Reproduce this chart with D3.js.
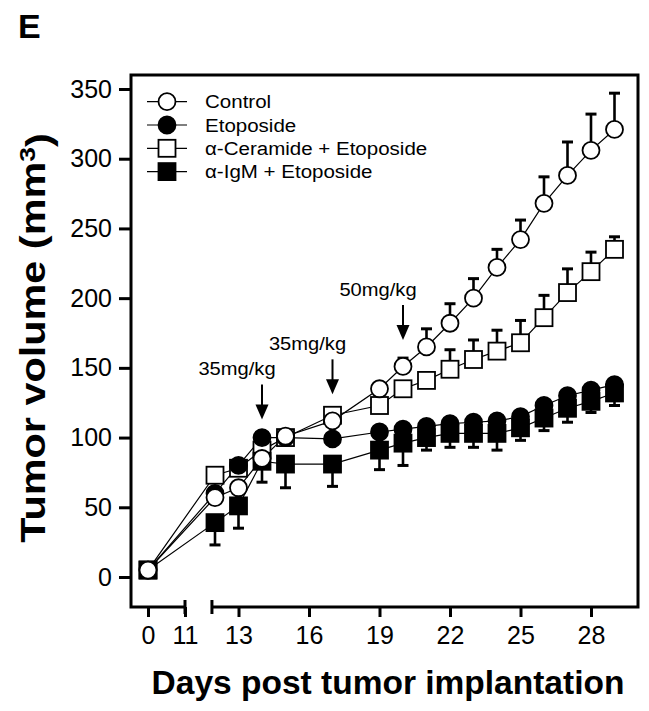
<!DOCTYPE html>
<html lang="en">
  <head>
    <meta charset="utf-8">
    <title>Tumor volume | D3</title>
    <script src="https://d3js.org/d3.v7.min.js"></script>
    <style type="text/css">
      body {
        margin: 0;
        background-color: #FFFFFF;
      }
      svg {
        display: block;
        font-family: 'Liberation Sans', Arial, sans-serif;
      }
      .axis line {
        stroke: #000000;
        stroke-width: 3;
      }
      .axis text {
        font-size: 25px;
        fill: #000000;
      }
      .frame {
        fill: none;
        stroke: #000000;
        stroke-width: 3;
      }
      .line {
        fill: none;
        stroke: #000000;
        stroke-width: 1.2;
      }
      .err {
        stroke: #000000;
        stroke-width: 2.6;
      }
      .cap {
        stroke: #000000;
        stroke-width: 3;
      }
      .marker {
        stroke: #000000;
        stroke-width: 1.8;
      }
      .legend text, .dose text {
        font-size: 19px;
        fill: #000000;
      }
      .title {
        font-weight: bold;
        fill: #000000;
      }
    </style>
  </head>
  <body>
  <script type="text/javascript">
    // Data (tumor volume, mm3)
    var days = [0, 12, 13, 14, 15, 17, 19, 20, 21, 22, 23, 24, 25, 26, 27, 28, 29];

    var controlMean = [5, 57, 64, 85, 101, 112, 135, 151, 165, 182, 200, 222, 242, 268, 288, 306, 321];
    var controlErr  = [0, 0, 0, 0, 0, 0, 4, 6, 13, 14, 14, 13, 14, 19, 24, 26, 26];

    var etoposideMean = [5, 60, 80, 100, 100, 99, 104, 106, 108, 110, 111, 112, 115, 123, 130, 134, 138];
    var etoposideErr  = [0, 0, 0, 0, 0, 0, 3, 3, 3, 3, 3, 3, 3, 3, 3, 3, 3];

    var ceramideMean = [5, 73, 78, 91, 100, 116, 123, 135, 141, 149, 156, 162, 168, 186, 204, 219, 235];
    var ceramideErr  = [0, 0, 0, 0, 0, 0, 0, 0, 0, 14, 14, 15, 16, 16, 17, 14, 9];

    var igmMean = [5, 39, 51, 83, 81, 81, 91, 96, 100, 103, 103, 103, 107, 114, 121, 126, 132];
    var igmErr  = [0, 16, 16, 15, 17, 16, 14, 16, 9, 10, 10, 12, 9, 9, 10, 8, 9];

    var seriesNames = ["Control", "Etoposide", "\u03b1-Ceramide + Etoposide", "\u03b1-IgM + Etoposide"];

    var yTicks = [0, 50, 100, 150, 200, 250, 300, 350];
    var xTicksLeft = [0, 11];
    var xTicksRight = [13, 16, 19, 22, 25, 28];

    var doseDays = [14, 17, 20];
    var doseLabels = ["35mg/kg", "35mg/kg", "50mg/kg"];
    var doseTips = [113, 131, 170];

    // Layout
    var width = 649, height = 711;
    var plot = {left: 131, top: 75, right: 638, bottom: 607};

    var y = d3.scaleLinear().domain([0, 350]).range([577, 89]);
    var xLeft = d3.scaleLinear().domain([0, 11]).range([148, 185]);
    var xRight = d3.scaleLinear().domain([12, 29]).range([215, 614.5]);
    function x(d) { return d < 12 ? xLeft(d) : xRight(d); }
    var breakStart = xRight(11.87);

    var svg = d3.select("body").append("svg")
        .attr("width", width)
        .attr("height", height);

    svg.append("rect")
        .attr("width", width)
        .attr("height", height)
        .attr("fill", "#FFFFFF");

    // frame with broken x axis
    svg.append("path")
        .attr("class", "frame")
        .attr("d", "M" + breakStart + "," + plot.bottom + "H" + plot.right + "V" + plot.top +
                   "H" + plot.left + "V" + plot.bottom + "H" + xLeft(11));

    svg.append("g")
        .attr("class", "axis")
        .attr("transform", "translate(" + plot.left + ",0)")
        .call(d3.axisLeft(y).tickValues(yTicks).tickSize(12).tickPadding(7))
        .call(function(g) { g.select(".domain").remove(); });

    svg.append("g")
        .attr("class", "axis")
        .attr("transform", "translate(0," + plot.bottom + ")")
        .call(d3.axisBottom(xLeft).tickValues(xTicksLeft).tickSize(10).tickPadding(9))
        .call(function(g) { g.select(".domain").remove(); });

    svg.append("g")
        .attr("class", "axis")
        .attr("transform", "translate(0," + plot.bottom + ")")
        .call(d3.axisBottom(xRight).tickValues(xTicksRight).tickSize(10).tickPadding(9))
        .call(function(g) { g.select(".domain").remove(); });

    svg.selectAll(".axis text").attr("font-family", "'Liberation Sans', Arial, sans-serif");

    // break marks
    svg.selectAll(".brk")
        .data([xLeft(11), breakStart])
      .enter().append("line")
        .attr("class", "cap")
        .attr("x1", function(d) { return d; })
        .attr("x2", function(d) { return d; })
        .attr("y1", plot.bottom - 7)
        .attr("y2", plot.bottom + 7);

    // series
    function rows(mean, err) {
      return days.map(function(d, i) { return {day: d, mean: mean[i], err: err[i]}; });
    }

    var series = [
      {name: seriesNames[0], data: rows(controlMean, controlErr), dir: 1, shape: "circle", fill: "#FFFFFF"},
      {name: seriesNames[1], data: rows(etoposideMean, etoposideErr), dir: 1, shape: "circle", fill: "#000000"},
      {name: seriesNames[2], data: rows(ceramideMean, ceramideErr), dir: 1, shape: "square", fill: "#FFFFFF"},
      {name: seriesNames[3], data: rows(igmMean, igmErr), dir: -1, shape: "square", fill: "#000000"}
    ];

    var line = d3.line()
        .x(function(d) { return x(d.day); })
        .y(function(d) { return y(d.mean); });

    svg.selectAll(".line")
        .data(series)
      .enter().append("path")
        .attr("class", "line")
        .attr("d", function(s) { return line(s.data); });

    function drawMarker(g, shape, fill, cx, cy) {
      if (shape === "circle") {
        g.append("circle")
            .attr("class", "marker")
            .attr("cx", cx).attr("cy", cy).attr("r", 8.5)
            .attr("fill", fill);
      } else {
        g.append("rect")
            .attr("class", "marker")
            .attr("x", cx - 8.5).attr("y", cy - 8.5)
            .attr("width", 17).attr("height", 17)
            .attr("fill", fill);
      }
    }

    // draw order: ceramide, etoposide, IgM, control on top
    [2, 1, 3, 0].forEach(function(k) {
      var s = series[k];
      var g = svg.append("g");
      s.data.forEach(function(d) {
        if (d.err > 0) {
          var yEnd = y(d.mean + s.dir * d.err);
          g.append("line").attr("class", "err")
              .attr("x1", x(d.day)).attr("x2", x(d.day))
              .attr("y1", y(d.mean)).attr("y2", yEnd);
          g.append("line").attr("class", "cap")
              .attr("x1", x(d.day) - 5.5).attr("x2", x(d.day) + 5.5)
              .attr("y1", yEnd).attr("y2", yEnd);
        }
      });
      s.data.forEach(function(d) {
        drawMarker(g, s.shape, s.fill, x(d.day), y(d.mean));
      });
    });

    // legend
    var legend = svg.append("g").attr("class", "legend");
    series.forEach(function(s, i) {
      var ly = 101.7 + i * 23.3;
      legend.append("line")
          .attr("class", "line")
          .attr("x1", 147).attr("x2", 187)
          .attr("y1", ly).attr("y2", ly);
      drawMarker(legend, s.shape, s.fill, 167, ly);
      legend.append("text")
          .attr("transform", "translate(205," + ly + ") scale(1.08,1)")
          .attr("dy", "0.35em")
          .text(s.name);
    });

    // dose arrows
    var dose = svg.append("g").attr("class", "dose");
    doseDays.forEach(function(d, i) {
      var ax = x(d), tip = y(doseTips[i]);
      dose.append("line")
          .attr("x1", ax).attr("x2", ax)
          .attr("y1", tip - 35).attr("y2", tip - 12)
          .attr("stroke", "#000000")
          .attr("stroke-width", 2);
      dose.append("path")
          .attr("d", "M" + (ax - 6.5) + "," + (tip - 15) + "L" + (ax + 6.5) + "," + (tip - 15) + "L" + ax + "," + tip + "Z")
          .attr("fill", "#000000");
      dose.append("text")
          .attr("transform", "translate(" + (ax - 25) + "," + (tip - 44) + ") scale(1.06,1)")
          .attr("text-anchor", "middle")
          .text(doseLabels[i]);
    });

    // titles
    svg.append("text")
        .attr("class", "title")
        .attr("x", 18)
        .attr("y", 38)
        .attr("font-size", "34px")
        .text("E");

    svg.append("text")
        .attr("class", "title")
        .attr("x", 388)
        .attr("y", 694)
        .attr("text-anchor", "middle")
        .attr("font-size", "33.5px")
        .text("Days post tumor implantation");

    var yTitle = svg.append("text")
        .attr("class", "title")
        .attr("transform", "translate(45,338) rotate(-90) scale(1.2,1)")
        .attr("text-anchor", "middle")
        .attr("font-size", "34.5px")
        .text("Tumor volume (mm");
    yTitle.append("tspan")
        .attr("dy", "-0.45em")
        .attr("font-size", "22px")
        .text("3");
    yTitle.append("tspan")
        .attr("dy", "0.45em")
        .text(")");
  </script>
  </body>
</html>
